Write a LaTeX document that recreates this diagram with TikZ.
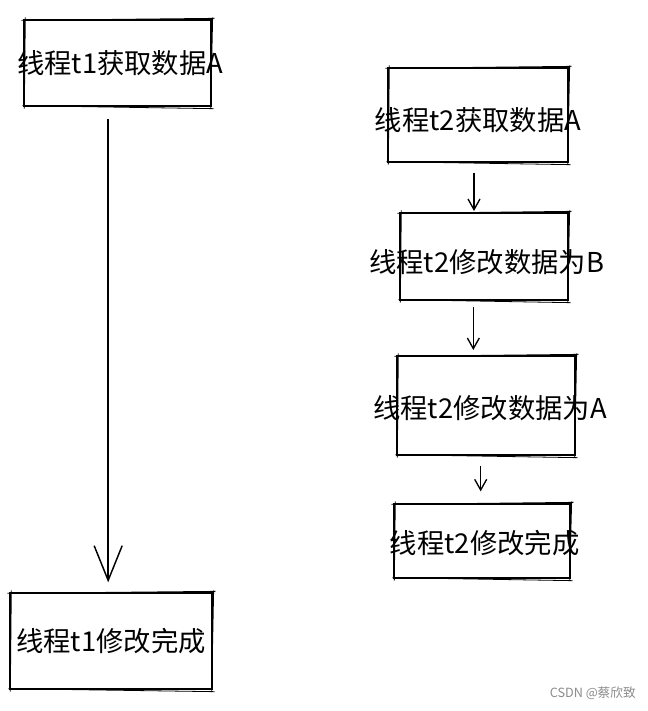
\documentclass[tikz,border=0pt]{standalone}
\usepackage{fontspec}
\setmainfont{Noto Sans CJK SC}
\usetikzlibrary{arrows.meta}
\begin{document}
\begin{tikzpicture}[x=0.75pt,y=-0.75pt,
  box/.style={draw=black, line width=1pt, inner sep=0pt},
  lbl/.style={font=\fontsize{20.5pt}{23pt}\selectfont, inner sep=0pt, text=black},
  conn/.style={draw=black, line width=1pt, -{Straight Barb[length=8pt,width=9pt]}},
  bigconn/.style={draw=black, line width=1.1pt, -{Straight Barb[length=26pt,width=21pt]}},
  wm/.style={font=\fontsize{9.5pt}{11pt}\selectfont, text=black!45, inner sep=0pt}]
\useasboundingbox (0,0) rectangle (648,711);
\fill[white] (0,0) rectangle (648,711);
% boxes
\node[box, minimum width=140.25pt, minimum height=64.5pt] (b1) at (117.5,63) {};
\node[box, minimum width=151.5pt, minimum height=72pt] (b6) at (111,641) {};
\node[box, minimum width=135pt, minimum height=70.5pt] (b2) at (478,115) {};
\node[box, minimum width=126pt, minimum height=65.25pt] (b3) at (484,256.5) {};
\node[box, minimum width=133.5pt, minimum height=74.25pt] (b4) at (486,405.5) {};
\node[box, minimum width=132pt, minimum height=55.5pt] (b5) at (482,541) {};
% sketchy second strokes
\foreach \b in {b1,b2,b3,b4,b5,b6}{
  \draw[line width=0.6pt] ([shift={(-2,1)}]\b.north west) -- ([shift={(3,-1)}]\b.north east)
        ([shift={(1,-2)}]\b.north east) -- ([shift={(-1,2)}]\b.south east)
        ([shift={(2,2)}]\b.south east) -- ([shift={(-1,-1)}]\b.south west)
        ([shift={(1,2)}]\b.south west) -- ([shift={(2,-2)}]\b.north west);
}
% labels
\node[lbl] (t1) at ([xshift=2pt]b1.center) {线程t1获取数据A};
\node[lbl] (t6) at (b6.center) {线程t1修改完成};
\node[lbl] (t2) at ([yshift=-3.75pt]b2.center) {线程t2获取数据A};
\node[lbl] (t3) at ([yshift=-4pt,xshift=2pt]b3.center) {线程t2修改数据为B};
\node[lbl] (t4) at ([yshift=-2pt,xshift=3pt]b4.center) {线程t2修改数据为A};
\node[lbl] (t5) at ([yshift=-1.5pt,xshift=2pt]b5.center) {线程t2修改完成};
% connectors
\draw[bigconn, shorten <=9pt, shorten >=7.5pt] ([xshift=-7]b1.south) -- ([xshift=-7]b1.south |- b6.north);
\draw[conn, shorten <=7.5pt, shorten >=1pt] ([xshift=-3]b2.south) -- ([xshift=-3]b2.south |- b3.north);
\draw[conn, shorten <=5pt, shorten >=4pt] ([xshift=-8]b3.south) -- ([xshift=-8]b3.south |- b4.north);
\draw[conn, shorten <=8pt, shorten >=9pt] ([xshift=-4]b4.south) -- ([xshift=-4]b4.south |- b5.north);
% watermark
\node[wm, anchor=east] (w) at (636,693) {CSDN @蔡欣致};
\end{tikzpicture}
\end{document}
